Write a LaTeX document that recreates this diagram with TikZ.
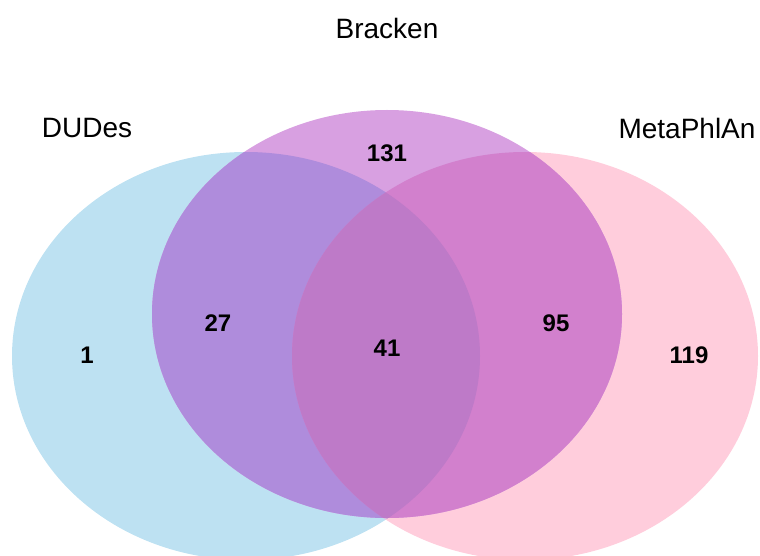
\documentclass[tikz,border=0pt]{standalone}
\usepackage{fontspec}
\setmainfont{Liberation Sans}
\definecolor{cBlue}{RGB}{189,225,242}
\definecolor{cPink}{RGB}{255,205,220}
\definecolor{cPurp}{RGB}{216,160,225}
\definecolor{cBP}{RGB}{175,140,220}
\definecolor{cPM}{RGB}{210,128,205}
\definecolor{cAll}{RGB}{190,122,200}
\definecolor{cBM}{RGB}{215,190,225}
\begin{document}
\begin{tikzpicture}[x=1pt,y=-1pt,
  setlabel/.style={font=\fontsize{28}{30}\selectfont},
  count/.style={font=\fontsize{24}{26}\selectfont\bfseries}]
\useasboundingbox (0,0) rectangle (760,556);
\def\blueE{(246,356) ellipse [x radius=234, y radius=204]}
\def\purpE{(387,314) ellipse [x radius=235, y radius=204]}
\def\pinkE{(525,356) ellipse [x radius=233, y radius=204]}
\fill[cBlue] \blueE;
\fill[cPink] \pinkE;
\begin{scope}\clip \blueE; \fill[cBM] \pinkE; \end{scope}
\fill[cPurp] \purpE;
\begin{scope}\clip \purpE; \fill[cBP] \blueE; \end{scope}
\begin{scope}\clip \purpE; \fill[cPM] \pinkE; \end{scope}
\begin{scope}\clip \purpE; \clip \blueE; \fill[cAll] \pinkE; \end{scope}
\node[setlabel] (lBr) at (387,28) {Bracken};
\node[setlabel] (lDu) at (87,128) {DUDes};
\node[setlabel] (lMe) at (687,128) {MetaPhlAn};
\node[count] (n131) at (387,153) {131};
\node[count] (n27) at (218,323) {27};
\node[count] (n41) at (387,348) {41};
\node[count] (n95) at (556,323) {95};
\node[count] (n1) at (87,355) {1};
\node[count] (n119) at (689,355) {119};
\end{tikzpicture}
\end{document}
